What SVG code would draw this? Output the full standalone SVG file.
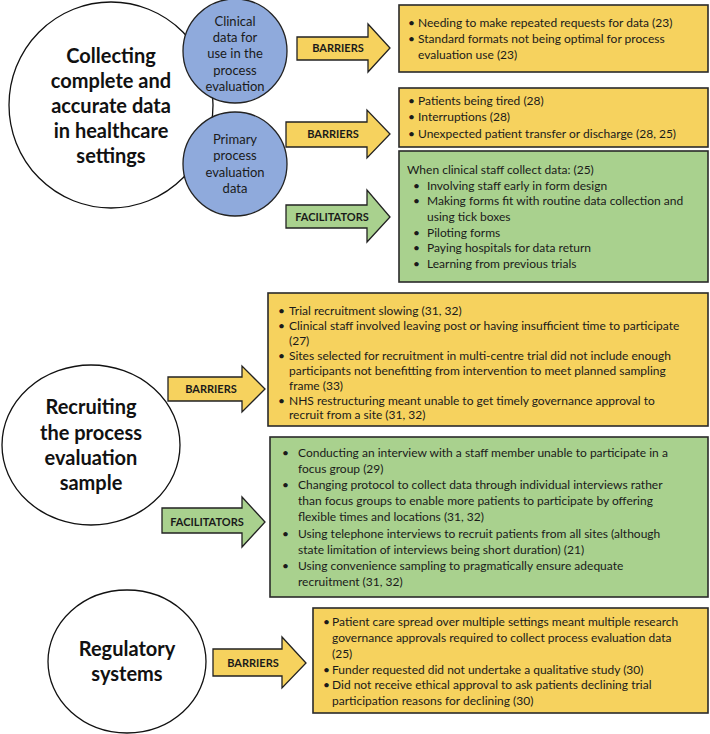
<svg xmlns="http://www.w3.org/2000/svg" width="710" height="734" viewBox="0 0 710 734">
<style>
.bg{fill:#ffffff}
.big{fill:#ffffff;stroke:#111;stroke-width:1.3}
.blue{fill:#8FAADC;stroke:#222;stroke-width:1.3}
.yb{fill:#F6D25E;stroke:#2a2a2a;stroke-width:1.6}
.gb{fill:#A9D18E;stroke:#2a2a2a;stroke-width:1.6}
.ya{fill:#F6D25E;stroke:#222;stroke-width:1.3}
.ga{fill:#A9D18E;stroke:#222;stroke-width:1.3}
.title{font-family:Lato,"Liberation Sans",sans-serif;font-weight:bold;font-size:20px;fill:#111;text-anchor:middle}
.sub{font-family:Lato,"Liberation Sans",sans-serif;font-size:13px;fill:#1a1a1a;text-anchor:middle}
.lab{font-family:Lato,"Liberation Sans",sans-serif;font-weight:bold;font-size:11px;fill:#1a1a1a;text-anchor:middle}
.t{font-family:Lato,"Liberation Sans",sans-serif;font-size:12px;fill:#1a1a1a}
</style>
<rect class="bg" x="0" y="0" width="710" height="734"/>

<g id="node-collecting">
<ellipse class="big" cx="111" cy="105" rx="102" ry="103"/>
<text class="title" x="111" y="63">Collecting</text>
<text class="title" x="111" y="88">complete and</text>
<text class="title" x="111" y="113">accurate data</text>
<text class="title" x="111" y="138">in healthcare</text>
<text class="title" x="111" y="163">settings</text>
</g>

<g id="node-clinical-data">
<circle class="blue" cx="235" cy="51" r="52"/>
<text class="sub" x="235" y="26">Clinical</text>
<text class="sub" x="235" y="42">data for</text>
<text class="sub" x="235" y="58">use in the</text>
<text class="sub" x="235" y="75">process</text>
<text class="sub" x="235" y="91">evaluation</text>
</g>

<g id="node-primary-data">
<circle class="blue" cx="235" cy="164" r="52"/>
<text class="sub" x="235" y="144">Primary</text>
<text class="sub" x="235" y="160">process</text>
<text class="sub" x="235" y="177">evaluation</text>
<text class="sub" x="235" y="193">data</text>
</g>

<g id="node-barriers-clinical">
<rect class="yb" x="399" y="5" width="309" height="67"/>
<text class="t" x="408" y="27">•</text><text class="t" x="418" y="27">Needing to make repeated requests for data (23)</text>
<text class="t" x="408" y="43">•</text><text class="t" x="418" y="43">Standard formats not being optimal for process</text>
<text class="t" x="418" y="59">evaluation use (23)</text>
</g>

<g id="node-barriers-primary">
<rect class="yb" x="399" y="88" width="309" height="59"/>
<text class="t" x="408" y="105">•</text><text class="t" x="418" y="105">Patients being tired (28)</text>
<text class="t" x="408" y="121">•</text><text class="t" x="418" y="121">Interruptions (28)</text>
<text class="t" x="408" y="138">•</text><text class="t" x="418" y="138">Unexpected patient transfer or discharge (28, 25)</text>
</g>

<g id="node-facilitators-primary">
<rect class="gb" x="399" y="151" width="309" height="131"/>
<text class="t" x="407" y="174">When clinical staff collect data: (25)</text>
<text class="t" x="413" y="190">•</text><text class="t" x="427" y="190">Involving staff early in form design</text>
<text class="t" x="413" y="205">•</text><text class="t" x="427" y="205">Making forms fit with routine data collection and</text>
<text class="t" x="427" y="221">using tick boxes</text>
<text class="t" x="413" y="237">•</text><text class="t" x="427" y="237">Piloting forms</text>
<text class="t" x="413" y="252">•</text><text class="t" x="427" y="252">Paying hospitals for data return</text>
<text class="t" x="413" y="268">•</text><text class="t" x="427" y="268">Learning from previous trials</text>
</g>

<g id="node-recruiting">
<ellipse class="big" cx="91" cy="445" rx="89" ry="80"/>
<text class="title" x="91" y="414">Recruiting</text>
<text class="title" x="91" y="440">the process</text>
<text class="title" x="91" y="465">evaluation</text>
<text class="title" x="91" y="490">sample</text>
</g>

<g id="node-barriers-recruiting">
<rect class="yb" x="268" y="293" width="440" height="133"/>
<text class="t" x="278" y="315">•</text><text class="t" x="289" y="315">Trial recruitment slowing (31, 32)</text>
<text class="t" x="278" y="330">•</text><text class="t" x="289" y="330">Clinical staff involved leaving post or having insufficient time to participate</text>
<text class="t" x="289" y="345">(27)</text>
<text class="t" x="278" y="360">•</text><text class="t" x="289" y="360">Sites selected for recruitment in multi-centre trial did not include enough</text>
<text class="t" x="289" y="375">participants not benefitting from intervention to meet planned sampling</text>
<text class="t" x="289" y="390">frame (33)</text>
<text class="t" x="278" y="405">•</text><text class="t" x="289" y="405">NHS restructuring meant unable to get timely governance approval to</text>
<text class="t" x="289" y="419">recruit from a site (31, 32)</text>
</g>

<g id="node-facilitators-recruiting">
<rect class="gb" x="270" y="437" width="438" height="160"/>
<text class="t" x="282" y="457">•</text><text class="t" x="298" y="457">Conducting an interview with a staff member unable to participate in a</text>
<text class="t" x="298" y="473">focus group (29)</text>
<text class="t" x="282" y="489">•</text><text class="t" x="298" y="489">Changing protocol to collect data through individual interviews rather</text>
<text class="t" x="298" y="505">than focus groups to enable more patients to participate by offering</text>
<text class="t" x="298" y="521">flexible times and locations (31, 32)</text>
<text class="t" x="282" y="538">•</text><text class="t" x="298" y="538">Using telephone interviews to recruit patients from all sites (although</text>
<text class="t" x="298" y="554">state limitation of interviews being short duration) (21)</text>
<text class="t" x="282" y="570">•</text><text class="t" x="298" y="570">Using convenience sampling to pragmatically ensure adequate</text>
<text class="t" x="298" y="586">recruitment (31, 32)</text>
</g>

<g id="node-regulatory">
<ellipse class="big" cx="127" cy="661.5" rx="79" ry="71.5"/>
<text class="title" x="127" y="656">Regulatory</text>
<text class="title" x="127" y="681">systems</text>
</g>

<g id="node-barriers-regulatory">
<rect class="yb" x="313" y="608" width="395" height="105"/>
<text class="t" x="323" y="626">•</text><text class="t" x="332" y="626">Patient care spread over multiple settings meant multiple research</text>
<text class="t" x="332" y="642">governance approvals required to collect process evaluation data</text>
<text class="t" x="332" y="658">(25)</text>
<text class="t" x="323" y="674">•</text><text class="t" x="332" y="674">Funder requested did not undertake a qualitative study (30)</text>
<text class="t" x="323" y="689">•</text><text class="t" x="332" y="689">Did not receive ethical approval to ask patients declining trial</text>
<text class="t" x="332" y="705">participation reasons for declining (30)</text>
</g>

<g id="connectors">
<g id="arrow-barriers-1">
<polygon class="ya" points="297,37 368,37 368,24 390,48 368,72 368,60 297,60"/>
<text class="lab" x="338" y="52">BARRIERS</text>
</g>
<g id="arrow-barriers-2">
<polygon class="ya" points="286,122 367,122 367,110 390,134 367,158 367,147 286,147"/>
<text class="lab" x="333" y="138">BARRIERS</text>
</g>
<g id="arrow-facilitators-1">
<polygon class="ga" points="286,205 367,205 367,190 390,217 367,242 367,228 286,228"/>
<text class="lab" x="332" y="221">FACILITATORS</text>
</g>
<g id="arrow-barriers-3">
<polygon class="ya" points="168,377 242,377 242,366 265,389 242,412 242,401 168,401"/>
<text class="lab" x="211" y="393">BARRIERS</text>
</g>
<g id="arrow-facilitators-2">
<polygon class="ga" points="162,508 242,508 242,497 265,522 242,547 242,533 162,533"/>
<text class="lab" x="207" y="526">FACILITATORS</text>
</g>
<g id="arrow-barriers-4">
<polygon class="ya" points="213,649 282,649 282,637 306,663 282,688 282,676 213,676"/>
<text class="lab" x="253" y="667">BARRIERS</text>
</g>
</g>
</svg>
